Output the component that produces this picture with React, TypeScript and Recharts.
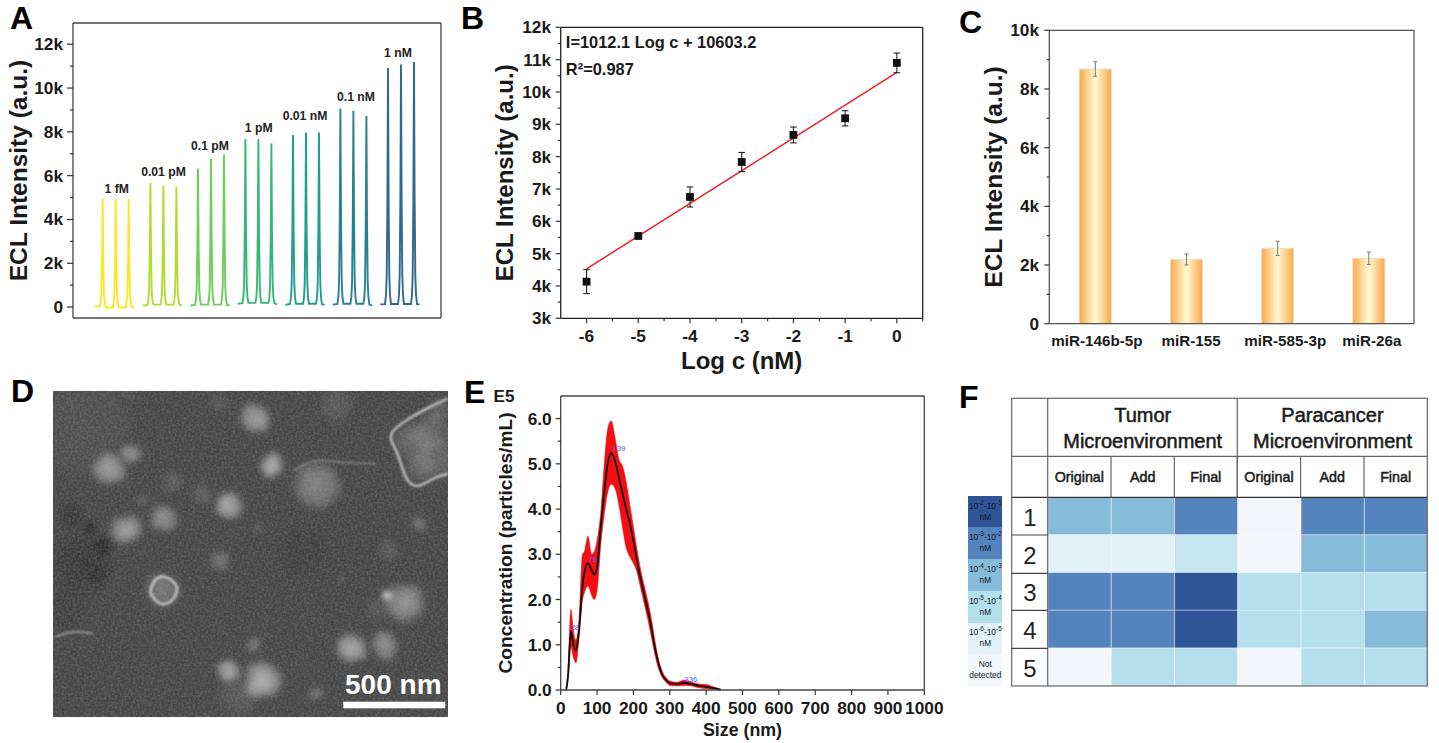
import React from 'react'
import {
  Area,
  Bar,
  BarChart,
  Cell,
  ComposedChart,
  ErrorBar,
  Line,
  LineChart,
  ReferenceDot,
  Scatter,
  ScatterChart,
  XAxis,
  YAxis,
} from 'recharts'

const FONT = '"Liberation Sans", Arial, sans-serif'

// panel A
const groupStarts = [22, 69.7, 117.3, 164.7, 212.3, 259.7, 307.3]
const groupColors = ['#fde725', '#b0dd2f', '#6ccd5a', '#35b779', '#1f9e89', '#26828e', '#31688e']
const peakOffsets = [
  0, 4.7, 5.7, 6.4, 7.1, 7.7, 8.3, 9, 9.7, 10.7, 17.7, 18.7, 19.4, 20.1, 20.7, 21.3, 22, 22.7, 23.7,
  30.7, 31.7, 32.4, 33.1, 33.7, 34.3, 35, 35.7, 36.7, 39.3,
]
const groupSignals = [
  [30, 10, 230, 590, 2200, 4930, 2200, 590, 230, -20, -20, 230, 590, 2200, 4930, 2200, 590, 230, -20, -20, 230, 590, 2200, 4930, 2200, 590, 230, 10, -20],
  [70, 100, 330, 750, 2600, 5660, 2600, 750, 330, 110, 110, 330, 730, 2550, 5555, 2550, 730, 330, 110, 110, 330, 720, 2500, 5495, 2500, 720, 330, 110, 80],
  [70, 100, 350, 830, 2900, 6316, 2900, 830, 350, 110, 110, 370, 880, 3100, 6773, 3100, 880, 370, 110, 110, 380, 900, 3200, 6970, 3200, 900, 380, 100, 70],
  [150, 180, 460, 1080, 3500, 7670, 3500, 1080, 460, 190, 190, 460, 1080, 3500, 7670, 3500, 1080, 460, 190, 190, 450, 1060, 3400, 7470, 3400, 1060, 450, 170, 120],
  [100, 140, 430, 1060, 3550, 7850, 3550, 1060, 430, 150, 150, 440, 1080, 3600, 7975, 3600, 1080, 440, 150, 150, 440, 1080, 3600, 7975, 3600, 1080, 440, 130, 100],
  [110, 140, 490, 1210, 4100, 9070, 4100, 1210, 490, 150, 150, 480, 1200, 4050, 8965, 4050, 1200, 480, 150, 150, 470, 1170, 3950, 8720, 3950, 1170, 470, 120, 70],
  [120, 130, 560, 1440, 4900, 10910, 4900, 1440, 560, 140, 140, 570, 1460, 5000, 11080, 5000, 1460, 570, 140, 140, 570, 1470, 5050, 11190, 5050, 1470, 570, 130, 120],
]
const groupNames = ['1 fM', '0.01 pM', '0.1 pM', '1 pM', '0.01 nM', '0.1 nM', '1 nM']
const groupNameX = [43.7, 90.5, 137, 185.7, 232, 283, 325]
const groupNameY = [5388, 6164, 7352, 8174, 8721, 9589, 11598]
const ticksA = [0, 1000, 2000, 3000, 4000, 5000, 6000, 7000, 8000, 9000, 10000, 11000, 12000]

// panel B
const logConc = [-6, -5, -4, -3, -2, -1, 0]
const meanSignal = [4134, 5546, 6753, 7835, 8670, 9186, 10900]
const signalError = [370, 50, 310, 295, 245, 235, 305]
const fitSignal = [4530, null, null, null, null, null, 10603]
const ticksBx = [-6, -5.5, -5, -4.5, -4, -3.5, -3, -2.5, -2, -1.5, -1, -0.5, 0, 0.5]
const ticksBy = [3000, 3500, 4000, 4500, 5000, 5500, 6000, 6500, 7000, 7500, 8000, 8500, 9000, 9500, 10000, 10500, 11000, 11500, 12000]

// panel C
const mirNames = ['miR-146b-5p', 'miR-155', 'miR-585-3p', 'miR-26a']
const mirSignal = [8680, 2190, 2570, 2230]
const mirError = [245, 190, 240, 210]
const mirLabelShift = [2, 5, 8, 3.5]
const ticksC = [0, 1000, 2000, 3000, 4000, 5000, 6000, 7000, 8000, 9000, 10000]

// panel D, in image coordinates of the micrograph
const blobX = [240, 1000, 765, 325, 395, 815, 950, 685, 490, 378, 488, 660, 1215, 1160, 1055, 1155, 760, 685, 785, 950, 515, 605, 430, 1010, 655, 385, 775, 1165, 1030, 1255, 1240, 1290, 1310, 1260, 1320, 250, 310, 270, 200, 900, 215, 300, 720, 1130]
const blobY = [150, 500, 128, 280, 238, 270, 330, 390, 430, 460, 645, 555, 680, 660, 820, 810, 808, 888, 918, 958, 320, 358, 378, 90, 80, 55, 462, 525, 612, 445, 200, 170, 250, 270, 110, 560, 510, 460, 700, 530, 420, 600, 960, 700]
const blobSize = [60, 80, 17, 19, 12, 15, 27, 16, 16, 18, 19, 12, 23, 6, 17, 15, 10, 13, 22, 9, 13, 11, 7, 19, 10, 6, 7, 12, 5, 8, 22, 24, 24, 17, 14, 34, 9, 8, 30, 30, 16, 14, 24, 14]
const blobGlow = [0.06, -0.05, 0.55, 0.55, 0.45, 0.68, 0.4, 0.62, 0.45, 0.58, 0.32, 0.28, 0.5, 0.85, 0.62, 0.46, 0.32, 0.62, 0.68, 0.28, 0.15, 0.16, 0.18, 0.13, 0.1, 0.13, 0.13, 0.13, 0.16, 0.28, 0.2, 0.2, 0.2, 0.2, 0.15, -0.3, -0.7, -0.65, -0.14, -0.1, -0.3, -0.25, 0.12, 0.1]
const crystalEdge = [{ x: 1343, y: 70 }, { x: 1290, y: 95 }, { x: 1235, y: 125 }, { x: 1175, y: 175 }, { x: 1190, y: 230 }, { x: 1215, y: 300 }, { x: 1250, y: 332 }, { x: 1300, y: 310 }, { x: 1343, y: 295 }]
const fibreEdge = [{ x: 880, y: 285 }, { x: 920, y: 265 }, { x: 960, y: 255 }, { x: 1040, y: 262 }, { x: 1130, y: 265 }]
const crackEdge = [{ x: 165, y: 785 }, { x: 220, y: 770 }, { x: 280, y: 775 }]
const ringEdge = [{ x: 450, y: 650 }, { x: 465, y: 615 }, { x: 495, y: 605 }, { x: 525, y: 625 }, { x: 530, y: 650 }, { x: 510, y: 680 }, { x: 475, y: 682 }, { x: 450, y: 650 }]

// panel E
const sizeNm = [15, 20, 28, 35, 42, 50, 60, 65, 75, 85, 92, 100, 110, 120, 130, 139, 150, 160, 170, 180, 190, 200, 210, 220, 230, 240, 250, 260, 270, 280, 290, 300, 320, 340, 360, 380, 400, 420, 440]
const meanConc = [0, 0.3, 1.3, 1.0, 0.87, 1.3, 2.3, 2.6, 2.8, 2.65, 2.55, 2.7, 3.6, 4.4, 5.05, 5.23, 5.05, 4.7, 4.35, 4.0, 3.7, 3.3, 2.85, 2.45, 2.1, 1.75, 1.35, 0.9, 0.55, 0.33, 0.22, 0.15, 0.13, 0.16, 0.13, 0.09, 0.07, 0.04, 0.01]
const lowConc = [0, 0.2, 0.95, 0.72, 0.6, 1.1, 2.0, 2.15, 2.3, 2.1, 2.0, 2.2, 3.2, 3.9, 4.4, 4.55, 4.45, 4.1, 3.6, 3.15, 2.95, 2.8, 2.6, 2.25, 1.9, 1.55, 1.15, 0.75, 0.45, 0.27, 0.17, 0.1, 0.09, 0.1, 0.09, 0.05, 0.03, 0.02, 0]
const highConc = [0, 0.4, 1.78, 1.3, 1.1, 1.5, 3.0, 3.05, 3.4, 3.0, 3.05, 3.3, 3.9, 5.0, 5.8, 5.95, 5.55, 5.1, 4.95, 4.6, 4.1, 3.6, 3.1, 2.65, 2.3, 1.95, 1.55, 1.05, 0.65, 0.4, 0.27, 0.2, 0.17, 0.22, 0.17, 0.13, 0.12, 0.07, 0.02]
const peakNames = ['28', '75', '139', '336']
const peakNameX = [39, 88, 160, 358]
const peakNameY = [1.4, 2.89, 5.34, 0.24]
const ticksEx = [0, 100, 200, 300, 400, 500, 600, 700, 800, 900, 1000]
const ticksEy = [0, 0.5, 1, 1.5, 2, 2.5, 3, 3.5, 4, 4.5, 5, 5.5, 6]

// panel F, level 6 is the paler tint seen once in row 2
const rowNames = ['1', '2', '3', '4', '5']
const tumorOriginal = [3, 1, 4, 4, 0]
const tumorAdd = [3, 1, 4, 4, 2]
const tumorFinal = [4, 6, 5, 5, 2]
const paraOriginal = [0, 0, 2, 2, 0]
const paraAdd = [4, 3, 2, 2, 2]
const paraFinal = [4, 3, 2, 3, 2]
const levelColumns = [tumorOriginal, tumorAdd, tumorFinal, paraOriginal, paraAdd, paraFinal]
const levelColors = ['#f3f6fb', '#e2f2f8', '#b5dfec', '#86bcd9', '#5583bc', '#2f5597', '#c5e6ef']
const legendLow = [-2, -3, -4, -5, -6]
const legendHigh = [-1, -2, -3, -4, -5]
const subHeaders = ['Original', 'Add', 'Final', 'Original', 'Add', 'Final']

const tableA = groupSignals.flatMap((signal, g) =>
  peakOffsets.map((off, i) => ({ x: groupStarts[g] + off, [`g${g}`]: signal[i] })),
)
const tableB = logConc.map((x, i) => ({ x, y: meanSignal[i], err: signalError[i], fit: fitSignal[i] }))
const tableC = mirNames.map((name, i) => ({ name, y: mirSignal[i], err: mirError[i] }))
const tableE = sizeNm.map((x, i) => ({ x, mean: meanConc[i], band: [lowConc[i], highConc[i]] }))
const tableF = rowNames.map((row) => {
  const item: any = { row }
  levelColumns.forEach((_, c) => (item[`c${c}`] = 1))
  return item
})
const blobs = blobX.map((x, i) => ({ x, y: blobY[i], size: blobSize[i], glow: blobGlow[i] }))

const kLabel = (v: number) => (v === 0 ? '0' : `${v / 1000}k`)

function leftTick(isMajor: (v: number) => boolean, label: (v: number) => string, gap: number, long: number, short: number, size = 17.3) {
  return ({ x, y, payload }: any) => {
    const major = isMajor(payload.value)
    return (
      <g>
        <line x1={x - (major ? long : short)} x2={x} y1={y} y2={y} stroke="#333" strokeWidth={1.2} />
        {major && (
          <text x={x - gap} y={y} textAnchor="end" dominantBaseline="central" fontFamily={FONT} fontWeight={700} fontSize={size} fill="#1a1a1a">
            {label(payload.value)}
          </text>
        )}
      </g>
    )
  }
}

function bottomTick(isMajor: (v: number) => boolean, label: (v: number) => string, down: number, long: number, short: number, size = 17.3) {
  return ({ x, y, payload }: any) => {
    const major = isMajor(payload.value)
    return (
      <g>
        <line x1={x} x2={x} y1={y} y2={y + (major ? long : short)} stroke="#333" strokeWidth={1.2} />
        {major && (
          <text x={x} y={y + down} textAnchor="middle" dominantBaseline="central" fontFamily={FONT} fontWeight={700} fontSize={size} fill="#1a1a1a">
            {label(payload.value)}
          </text>
        )}
      </g>
    )
  }
}

const mirTick = ({ x, y, index, payload }: any) => (
  <text x={x + mirLabelShift[index]} y={y + 16.3} textAnchor="middle" dominantBaseline="central" fontFamily={FONT} fontWeight={700} fontSize={15.2} fill="#1a1a1a">
    {payload.value}
  </text>
)

// top and right axes close the plot box, an axis of no size is not drawn
function frameAxes(stroke: string) {
  return [
    <XAxis key="top" xAxisId="top" type="number" orientation="top" domain={[0, 1]} ticks={[0, 1]} height={1} tick={false} tickLine={false} stroke={stroke} strokeWidth={1.3} />,
    <YAxis key="right" yAxisId="right" type="number" orientation="right" domain={[0, 1]} ticks={[0, 1]} width={1} tick={false} tickLine={false} stroke={stroke} strokeWidth={1.3} />,
  ]
}

const titleLabel = (value: string, size: number, dx: number, dy: number, vertical = true) => ({
  value,
  position: 'center' as const,
  angle: vertical ? -90 : 0,
  dx,
  dy,
  fontFamily: FONT,
  fontWeight: 700,
  fontSize: size,
  fill: '#1a1a1a',
})

const box = (left: number, top: number, width: number, height: number): React.CSSProperties => ({
  position: 'absolute',
  left,
  top,
  width,
  height,
})

function SpectraPanel() {
  return (
    <div style={box(0, 0, 450, 330)}>
      <LineChart width={450} height={330} data={tableA} margin={{ top: 22, right: 8, bottom: 11, left: 0 }}>
        <XAxis type="number" dataKey="x" domain={[0, 368]} ticks={[0, 368]} height={1} tick={false} tickLine={false} stroke="#444" strokeWidth={1.3} />
        <YAxis
          type="number"
          width={73}
          domain={[-500, 12970]}
          ticks={ticksA}
          interval={0}
          tickSize={0}
          tickMargin={0}
          tick={leftTick((v) => v % 2000 === 0, kLabel, 10, 6, 3)}
          stroke="#444"
          strokeWidth={1.3}
          label={titleLabel('ECL Intensity (a.u.)', 24.5, -18.5, 0)}
        />
        {frameAxes('#444')}
        {groupSignals.map((_, g) => (
          <Line key={g} dataKey={`g${g}`} stroke={groupColors[g]} strokeWidth={1.9} dot={false} isAnimationActive={false} type="linear" />
        ))}
        {groupNames.map((name, i) => (
          <ReferenceDot
            key={name}
            x={groupNameX[i]}
            y={groupNameY[i]}
            r={0}
            stroke="none"
            label={{ value: name, position: 'center', fontFamily: FONT, fontWeight: 700, fontSize: 12.2, fill: '#222' }}
          />
        ))}
      </LineChart>
    </div>
  )
}

const squareDot = ({ cx, cy, key }: any) => <rect key={key} x={cx - 3.9} y={cy - 3.9} width={7.8} height={7.8} fill="#111" />

function CalibrationPanel() {
  return (
    <div style={box(470, 0, 480, 380)}>
      <ComposedChart width={480} height={380} data={tableB} margin={{ top: 26.3, right: 26.3, bottom: 0, left: 0 }}>
        <XAxis
          type="number"
          dataKey="x"
          domain={[-6.5, 0.5]}
          ticks={ticksBx}
          interval={0}
          height={61.7}
          tickSize={0}
          tickMargin={0}
          tick={bottomTick(Number.isInteger, String, 17.7, 5, 3)}
          stroke="#222"
          strokeWidth={1.3}
          label={titleLabel('Log c (nM)', 24, 0, 10.9, false)}
        />
        <YAxis
          type="number"
          width={90.7}
          domain={[3000, 12000]}
          ticks={ticksBy}
          interval={0}
          tickSize={0}
          tickMargin={0}
          tick={leftTick((v) => v % 1000 === 0, kLabel, 9.7, 5, 3, 17.2)}
          stroke="#222"
          strokeWidth={1.3}
          label={titleLabel('ECL Intensity (a.u.)', 24, -10.4, 0)}
        />
        {frameAxes('#222')}
        <Line dataKey="fit" connectNulls stroke="#e8202a" strokeWidth={1.5} dot={false} isAnimationActive={false} />
        <Line dataKey="y" stroke="none" dot={squareDot} isAnimationActive={false}>
          <ErrorBar dataKey="err" direction="y" width={3.3} stroke="#222" strokeWidth={1.1} isAnimationActive={false} />
        </Line>
        <ReferenceDot
          x={-6.4}
          y={11540}
          r={0}
          stroke="none"
          label={{ value: 'I=1012.1 Log c + 10603.2', position: 'right', offset: 0, fontFamily: FONT, fontWeight: 700, fontSize: 16.4, fill: '#1a1a1a' }}
        />
        <ReferenceDot
          x={-6.4}
          y={10700}
          r={0}
          stroke="none"
          label={{ value: 'R²=0.987', position: 'right', offset: 0, fontFamily: FONT, fontWeight: 700, fontSize: 16.4, fill: '#1a1a1a' }}
        />
      </ComposedChart>
    </div>
  )
}

function SelectivityPanel() {
  return (
    <div style={box(960, 0, 479, 360)}>
      <BarChart width={479} height={360} data={tableC} margin={{ top: 29.3, right: 24, bottom: 0, left: 0 }}>
        <defs>
          <linearGradient id="barGlow" x1="0" x2="1" y1="0" y2="0">
            <stop offset="0" stopColor="#fba94a" />
            <stop offset="0.5" stopColor="#fffbd4" />
            <stop offset="1" stopColor="#fba94a" />
          </linearGradient>
        </defs>
        <XAxis dataKey="name" height={36.3} interval={0} tickSize={0} tickMargin={0} tick={mirTick} stroke="#555" strokeWidth={1.3} />
        <YAxis
          type="number"
          width={89.3}
          domain={[0, 10000]}
          ticks={ticksC}
          interval={0}
          tickSize={0}
          tickMargin={0}
          tick={leftTick((v) => v % 2000 === 0, kLabel, 10.3, 5, 2.5, 17.2)}
          stroke="#555"
          strokeWidth={1.3}
          label={titleLabel('ECL Intensity (a.u.)', 24.5, -11.6, 0)}
        />
        {frameAxes('#555')}
        <Bar dataKey="y" barSize={32} fill="url(#barGlow)" stroke="#e6dcc8" strokeWidth={0.8} isAnimationActive={false}>
          <ErrorBar dataKey="err" direction="y" width={2} stroke="#777" strokeWidth={1} isAnimationActive={false} />
        </Bar>
      </BarChart>
    </div>
  )
}

const blobShape = ({ cx, cy, payload }: any) => (
  <circle
    cx={cx}
    cy={cy}
    r={payload.size}
    fill={payload.glow > 0 ? 'url(#semLight)' : 'url(#semDark)'}
    opacity={Math.abs(payload.glow)}
    filter="url(#semRough)"
  />
)
const noDot = () => null

function MicrographPanel() {
  return (
    <div style={{ ...box(53, 390.7, 394.7, 326.6), background: '#474747', overflow: 'hidden' }}>
      <ScatterChart width={394.7} height={326.6} margin={{ top: 0, right: 0, bottom: 0, left: 0 }}>
        <defs>
          <radialGradient id="semLight">
            <stop offset="0" stopColor="#e8e8e8" stopOpacity={1} />
            <stop offset="0.6" stopColor="#e8e8e8" stopOpacity={0.65} />
            <stop offset="1" stopColor="#e8e8e8" stopOpacity={0} />
          </radialGradient>
          <radialGradient id="semDark">
            <stop offset="0" stopColor="#151515" stopOpacity={1} />
            <stop offset="0.6" stopColor="#151515" stopOpacity={0.7} />
            <stop offset="1" stopColor="#151515" stopOpacity={0} />
          </radialGradient>
          <filter id="semRough" x="-40%" y="-40%" width="180%" height="180%">
            <feTurbulence type="fractalNoise" baseFrequency="0.05" numOctaves="2" seed="4" result="noise" />
            <feDisplacementMap in="SourceGraphic" in2="noise" scale="9" result="moved" />
            <feGaussianBlur in="moved" stdDeviation="2.4" />
          </filter>
          <filter id="edgeBlur" x="-20%" y="-20%" width="140%" height="140%">
            <feGaussianBlur stdDeviation="1.1" />
          </filter>
        </defs>
        <XAxis type="number" dataKey="x" domain={[159, 1343]} hide />
        <YAxis type="number" dataKey="y" domain={[47, 1027]} reversed hide width={0} />
        <Scatter data={blobs} shape={blobShape} isAnimationActive={false} />
        {[crystalEdge, fibreEdge, crackEdge, ringEdge].map((edge, i) => (
          <Scatter
            key={i}
            data={edge}
            shape={noDot}
            line={{ stroke: '#e4e4e4', strokeWidth: i === 0 || i === 3 ? 2.6 : 1.3, strokeOpacity: i === 1 ? 0.45 : 0.75, filter: 'url(#edgeBlur)' }}
            lineJointType="natural"
            isAnimationActive={false}
          />
        ))}
      </ScatterChart>
    </div>
  )
}

function SizePanel() {
  return (
    <div style={box(470, 380, 490, 363)}>
      <ComposedChart width={490} height={363} data={tableE} margin={{ top: 15, right: 34.7, bottom: 0, left: 0 }}>
        <XAxis
          type="number"
          dataKey="x"
          domain={[0, 1000]}
          ticks={ticksEx}
          interval={0}
          height={53}
          tickSize={0}
          tickMargin={0}
          tick={bottomTick(() => true, String, 18.3, 5, 5)}
          stroke="#444"
          strokeWidth={1.3}
          label={titleLabel('Size (nm)', 17.8, 0, 13.5, false)}
        />
        <YAxis
          type="number"
          width={90.7}
          domain={[0, 6.5]}
          ticks={ticksEy}
          interval={0}
          tickSize={0}
          tickMargin={0}
          tick={leftTick(Number.isInteger, (v) => v.toFixed(1), 9, 5, 3)}
          stroke="#444"
          strokeWidth={1.3}
          label={titleLabel('Concentration (particles/mL)', 19.2, -10.4, 0)}
        />
        {frameAxes('#444')}
        <Area dataKey="band" type="monotone" fill="#f40d12" fillOpacity={1} stroke="#f40d12" strokeWidth={0.6} isAnimationActive={false} />
        <Line dataKey="mean" type="monotone" stroke="#111" strokeWidth={1.8} dot={false} isAnimationActive={false} />
        {peakNames.map((name, i) => (
          <ReferenceDot
            key={name}
            x={peakNameX[i]}
            y={peakNameY[i]}
            r={0}
            stroke="none"
            label={{ value: name, position: 'center', fontFamily: FONT, fontSize: 8, fill: '#5a5aff' }}
          />
        ))}
      </ComposedChart>
    </div>
  )
}

const rowTick = ({ x, y, payload }: any) => (
  <text x={x - 18} y={y + 1.5} textAnchor="middle" dominantBaseline="central" fontFamily={FONT} fontSize={24} fill="#222">
    {payload.value}
  </text>
)

function HeatPanel() {
  return (
    <div style={box(1011.7, 497.3, 415.6, 188.7)}>
      <BarChart layout="vertical" width={415.6} height={188.7} data={tableF} barCategoryGap={0} margin={{ top: 0, right: 0, bottom: 0, left: 0 }}>
        <XAxis type="number" domain={[0, 6]} hide />
        <YAxis type="category" dataKey="row" width={36} axisLine={false} tickLine={false} tick={rowTick} tickMargin={0} tickSize={0} />
        {levelColumns.map((levels, c) => (
          <Bar key={c} dataKey={`c${c}`} stackId="cells" isAnimationActive={false}>
            {levels.map((level, r) => (
              <Cell key={r} fill={levelColors[level]} stroke="#ffffff" strokeOpacity={0.55} strokeWidth={0.8} />
            ))}
          </Bar>
        ))}
      </BarChart>
    </div>
  )
}

function HeatLegend() {
  const ranges = legendLow.map((low, i) => (
    <>
      10<sup style={{ fontSize: 6.4, lineHeight: 0 }}>{low}</sup>-10<sup style={{ fontSize: 6.4, lineHeight: 0 }}>{legendHigh[i]}</sup>
      <br />
      nM
    </>
  ))
  const items = [...ranges, <>Not<br />detected</>]
  const fills = levelColors.slice(0, 6).reverse()
  return (
    <div style={box(968.3, 495.7, 34, 190.3)}>
      {items.map((item, i) => (
        <div
          key={i}
          style={{
            height: 31.72,
            background: fills[i],
            display: 'flex',
            alignItems: 'center',
            justifyContent: 'center',
            textAlign: 'center',
            fontFamily: FONT,
            fontSize: 8.4,
            lineHeight: '11px',
            color: '#101828',
            whiteSpace: 'nowrap',
          }}
        >
          <div>{item}</div>
        </div>
      ))}
    </div>
  )
}

const columnEdges = [1047.7, 1111, 1174.3, 1237.3, 1300.6, 1364, 1427.3]
const rowEdges = [497.3, 535, 573.3, 610.3, 648.3, 686]
const letters = [
  ['A', 10, 29.2],
  ['B', 461, 29.2],
  ['C', 959, 33],
  ['D', 11, 402],
  ['E', 464, 403],
  ['F', 959, 408],
] as const

function Overlay() {
  const headStyle = { fontFamily: FONT, fill: '#1a1a1a', stroke: '#1a1a1a', strokeWidth: 0.5, textAnchor: 'middle' as const }
  const lineColor = '#666'
  return (
    <svg width={1439} height={743} style={{ position: 'absolute', left: 0, top: 0, pointerEvents: 'none' }}>
      <defs>
        <filter id="semGrain" x="0" y="0" width="100%" height="100%">
          <feTurbulence type="fractalNoise" baseFrequency="0.45" numOctaves="2" seed="9" />
          <feColorMatrix type="matrix" values="0 0 0 0 0.45  0 0 0 0 0.45  0 0 0 0 0.45  0 0 0 0.5 -0.17" />
        </filter>
      </defs>
      <rect x={53} y={390.7} width={394.7} height={326.6} filter="url(#semGrain)" />
      {letters.map(([t, x, y]) => (
        <text key={t} x={x} y={y} fontFamily={FONT} fontWeight={700} fontSize={32} fill="#000">
          {t}
        </text>
      ))}
      <text x={504} y={396} textAnchor="middle" dominantBaseline="central" fontFamily={FONT} fontWeight={700} fontSize={17} fill="#1a1a1a">
        E5
      </text>

      <text x={393.3} y={684} textAnchor="middle" dominantBaseline="central" fontFamily={FONT} fontWeight={700} fontSize={28} fill="#fff">
        500 nm
      </text>
      <rect x={343.3} y={701.7} width={102} height={6.6} fill="#fff" />

      <rect x={1011.7} y={398.3} width={415.6} height={287.7} fill="none" stroke={lineColor} strokeWidth={1.2} />
      <line x1={1011.7} x2={1427.3} y1={456.3} y2={456.3} stroke={lineColor} strokeWidth={1.2} />
      <line x1={1011.7} x2={1427.3} y1={497.3} y2={497.3} stroke="#333" strokeWidth={1.2} />
      <line x1={1047.7} x2={1047.7} y1={398.3} y2={686} stroke={lineColor} strokeWidth={1.2} />
      <line x1={1237.3} x2={1237.3} y1={398.3} y2={497.3} stroke={lineColor} strokeWidth={1.2} />
      {columnEdges.slice(1, -1).map((x) => (
        <line key={x} x1={x} x2={x} y1={456.3} y2={497.3} stroke={lineColor} strokeWidth={1.2} />
      ))}
      {rowEdges.slice(1, -1).map((y) => (
        <line key={y} x1={1011.7} x2={1047.7} y1={y} y2={y} stroke="#444" strokeWidth={1.2} />
      ))}
      <text x={1142.7} y={422} fontSize={20} {...headStyle}>Tumor</text>
      <text x={1142.7} y={448} fontSize={20} {...headStyle}>Microenvironment</text>
      <text x={1332.5} y={422} fontSize={20} {...headStyle}>Paracancer</text>
      <text x={1332.5} y={448} fontSize={20} {...headStyle}>Microenvironment</text>
      {subHeaders.map((name, i) => (
        <text key={i} x={(columnEdges[i] + columnEdges[i + 1]) / 2} y={482} fontSize={14.3} {...headStyle}>
          {name}
        </text>
      ))}
    </svg>
  )
}

export default function App() {
  return (
    <div style={{ position: 'absolute', left: 0, top: 0, width: 1439, height: 743, background: '#fff', overflow: 'hidden' }}>
      <SpectraPanel />
      <CalibrationPanel />
      <SelectivityPanel />
      <MicrographPanel />
      <SizePanel />
      <HeatPanel />
      <HeatLegend />
      <Overlay />
    </div>
  )
}
